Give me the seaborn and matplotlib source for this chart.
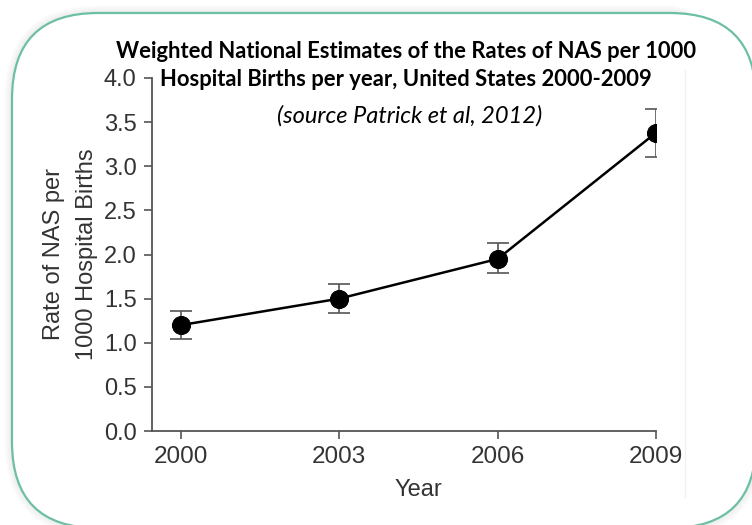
import matplotlib
matplotlib.use("Agg")
import matplotlib.pyplot as plt
import matplotlib.transforms as mtransforms
from matplotlib.patches import FancyBboxPatch
from matplotlib.lines import Line2D
import seaborn as sns
import pandas as pd

years = [2000, 2003, 2006, 2009]
rate = [1.20, 1.50, 1.95, 3.38]
ci_low = [1.04, 1.34, 1.79, 3.10]
ci_high = [1.36, 1.67, 2.13, 3.65]
y_ticks = [0.0, 0.5, 1.0, 1.5, 2.0, 2.5, 3.0, 3.5, 4.0]

df = pd.DataFrame({"Year": years, "Rate": rate})

sns.set_theme(style="ticks")
plt.rcParams["font.family"] = ["Liberation Sans", "DejaVu Sans"]

W, H = 752, 525
fig = plt.figure(figsize=(W / 100, H / 100), dpi=100)
fig.patch.set_facecolor("white")

# rounded frame (pixel coordinates) with a soft outer shadow
ident = mtransforms.IdentityTransform()
fx, fy, fw, fh, rad = 12, -3, 744, 515, 86
for d in range(1, 8):
    sh = FancyBboxPatch((fx - d, fy - d), fw + 2 * d, fh + 2 * d,
                        boxstyle=f"round,pad=0,rounding_size={rad + d}",
                        transform=ident, facecolor="none",
                        edgecolor=(0, 0, 0, 0.035 * (8 - d) / 7), lw=1.5, zorder=0)
    fig.add_artist(sh)
frame = FancyBboxPatch((fx, fy), fw, fh,
                       boxstyle=f"round,pad=0,rounding_size={rad}",
                       transform=ident, facecolor="white",
                       edgecolor="#6cbfa3", lw=1.6, zorder=1)
fig.add_artist(frame)

# faint edge of the embedded chart panel
fig.add_artist(Line2D([685 / W, 685 / W], [1 - 497 / H, 1 - 70 / H],
                      transform=fig.transFigure, color="#f1f1f1", lw=1, zorder=1))

ax = fig.add_axes([152 / W, (H - 431) / H, (656 - 152) / W, (431 - 78) / H])
ax.set_facecolor("none")
ax.set_zorder(2)

ax.errorbar(years, rate,
            yerr=[[r - l for r, l in zip(rate, ci_low)], [h - r for r, h in zip(rate, ci_high)]],
            fmt="none", ecolor="#555555", elinewidth=1.2, capsize=8, capthick=1.2, zorder=2)
sns.lineplot(data=df, x="Year", y="Rate", ax=ax, color="black", lw=1.8,
             marker="o", markersize=13, markerfacecolor="black",
             markeredgecolor="black", zorder=3)

xmin, xmax = 1999.45, 2009
ax.set_xlim(xmin, xmax)
ax.set_ylim(0, 4.0)
ax.set_xticks(years)
ax.set_xticklabels([str(y) for y in years])
ax.set_yticks(y_ticks)
ax.set_yticklabels([f"{v:.1f}" for v in y_ticks])
for s in ["top", "right"]:
    ax.spines[s].set_visible(False)
for s in ["left", "bottom"]:
    ax.spines[s].set_color("#555555")
    ax.spines[s].set_linewidth(1.3)
ax.tick_params(axis="both", direction="out", length=6, width=1.2, color="#555555",
               labelsize=17, labelcolor="#333333", pad=5)
ax.tick_params(axis="x", labelsize=17.5)
ax.set_xlabel("Year", fontsize=17, color="#333333")
ax.xaxis.set_label_coords(((years[0] + years[-1]) / 2 - xmin) / (xmax - xmin), -0.135)
ax.set_ylabel("Rate of NAS per\n1000 Hospital Births", fontsize=17, color="#333333",
              linespacing=1.6)
ax.yaxis.set_label_coords(-0.108, 0.5)

title_font = dict(family=["Lato", "DejaVu Sans"], color="black", zorder=5)
fig.text(406 / W, 1 - 52 / H,
         "Weighted National Estimates of the Rates of NAS per 1000",
         ha="center", va="center", fontsize=15.8, fontweight="bold", **title_font)
fig.text(406 / W, 1 - 80 / H,
         "Hospital Births per year, United States 2000-2009",
         ha="center", va="center", fontsize=15.8, fontweight="bold", **title_font)
fig.text(410 / W, 1 - 116 / H,
         "(source Patrick et al, 2012)",
         ha="center", va="center", fontsize=17, style="italic", **title_font)

fig.savefig("out.png", dpi=100, facecolor="white")
